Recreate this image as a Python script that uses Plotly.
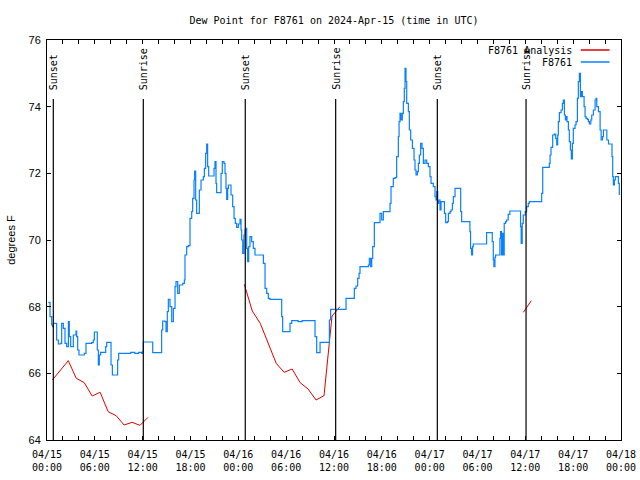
import pandas as pd
import plotly.graph_objects as go

START = pd.Timestamp("2024-04-15 00:00")

# ---- observed dew point (hours since start, degrees F) ----
blue_hours = [
    0.17, 0.38, 0.59, 0.70, 0.79, 1.09, 1.21, 1.42, 1.71, 1.84, 2.05, 2.26, 2.47, 2.68, 2.80, 2.97,
    3.18, 3.30, 3.64, 3.72, 3.85, 4.01, 4.56, 4.68, 4.89, 5.60, 5.81, 5.94, 6.23, 6.31, 6.44, 6.56,
    6.73, 7.19, 7.36, 7.49, 7.90, 8.03, 8.20, 8.74, 8.86, 8.99, 9.57, 10.5, 11.0, 11.5, 11.88, 12.0,
    12.08, 13.0, 13.26, 14.26, 14.38, 14.51, 14.80, 14.93, 15.09, 15.22, 15.43, 15.64, 15.85, 16.06,
    16.18, 16.39, 16.60, 17.02, 17.23, 17.31, 17.52, 17.73, 17.94, 18.15, 18.27, 18.44, 18.52, 18.65,
    18.77, 18.98, 19.11, 19.32, 19.61, 19.74, 19.90, 20.03, 20.15, 20.28, 20.78, 20.95, 21.07, 21.20,
    21.28, 21.70, 21.83, 21.99, 22.20, 22.33, 22.45, 22.54, 22.66, 22.75, 22.96, 23.08, 23.29, 23.46,
    23.62, 23.79, 24.00, 24.21, 24.34, 24.42, 24.55, 24.71, 24.84, 24.96, 25.05, 25.17, 25.30, 25.46,
    25.67, 25.88, 26.09, 26.93, 27.14, 27.35, 27.56, 27.76, 27.97, 29.23, 29.44, 29.56, 30.27, 30.48,
    30.69, 31.5, 32.0, 33.41, 33.62, 33.83, 34.04, 34.25, 35.29, 35.42, 35.58, 37.51, 38.43, 38.55,
    38.76, 38.97, 39.14, 39.26, 40.31, 40.43, 40.60, 40.73, 40.85, 41.06, 41.56, 41.77, 41.98, 42.19,
    42.82, 43.03, 43.15, 43.44, 43.65, 43.86, 44.07, 44.16, 44.28, 44.41, 44.57, 44.70, 44.82, 44.91,
    45.03, 45.12, 45.33, 45.45, 45.62, 45.83, 46.04, 46.16, 46.29, 46.46, 46.58, 46.71, 46.87, 47.04,
    47.21, 47.42, 47.63, 47.84, 48.04, 48.17, 48.46, 48.67, 48.80, 48.88, 49.01, 49.13, 49.30, 49.43,
    49.72, 49.85, 50.01, 50.22, 50.35, 50.56, 50.68, 50.85, 50.97, 51.18, 51.72, 51.89, 52.01, 52.97,
    53.05, 53.13, 53.26, 53.38, 53.47, 54.93, 55.14, 55.77, 55.85, 55.98, 56.06, 56.19, 56.27, 56.73,
    56.81, 56.89, 57.01, 57.14, 57.22, 57.35, 57.52, 57.64, 57.85, 58.06, 59.23, 59.40, 59.48, 59.61,
    59.74, 59.99, 60.16, 60.37, 60.50, 61.97, 62.05, 62.18, 62.89, 63.01, 63.10, 63.22, 63.43, 63.64,
    63.81, 63.94, 64.06, 64.14, 64.27, 64.48, 64.65, 64.77, 64.90, 65.02, 65.11, 65.23, 65.40, 65.52,
    65.65, 65.77, 65.90, 66.02, 66.23, 66.36, 66.53, 66.65, 66.78, 66.91, 67.03, 67.16, 67.28, 67.37,
    67.49, 67.62, 67.79, 67.91, 68.04, 68.21, 68.33, 68.54, 68.75, 68.87, 68.96, 69.17, 69.38, 69.51,
    69.68, 69.80, 70.04, 70.22, 70.43, 70.77, 70.87, 70.96, 71.04, 71.17, 71.29, 71.54, 71.67, 71.79,
]
blue_values = [
    68.13, 67.7, 67.45, 67.4, 67.5, 67.5, 67.0, 66.88, 66.9, 67.5, 67.35, 66.9, 66.8, 67.55, 67.1, 66.8,
    66.8, 67.15, 67.27, 67.1, 66.7, 66.55, 66.55, 66.6, 66.9, 66.92, 67.0, 67.24, 67.24, 66.7, 66.25, 66.55,
    66.63, 66.63, 66.8, 66.93, 66.93, 66.25, 65.95, 65.95, 66.4, 66.6, 66.6, 66.63, 66.6, 66.63, 66.6, 66.65,
    66.94, 66.94, 66.62, 66.62, 67.3, 67.57, 67.55, 67.25, 67.85, 68.22, 68.0, 67.55, 67.95, 68.6,
    68.75, 68.4, 68.65, 68.7, 68.8, 69.55, 69.8, 69.83, 70.65, 70.85, 71.25, 71.8, 72.07, 71.2,
    70.8, 70.8, 71.5, 71.8, 71.9, 72.15, 72.6, 72.88, 72.2, 71.92, 71.92, 72.15, 72.35, 71.7,
    71.42, 71.42, 72.0, 72.35, 72.3, 72.0, 71.55, 71.22, 71.55, 71.65, 71.65, 71.35, 71.0, 70.65,
    70.5, 70.38, 70.48, 70.62, 70.3, 70.0, 69.6, 70.15, 70.3, 70.35, 69.75, 69.35, 69.8, 70.1,
    69.95, 69.75, 69.55, 69.55, 69.3, 68.55, 68.4, 68.25, 68.22, 68.22, 67.7, 67.25, 67.25, 67.5,
    67.58, 67.55, 67.58, 67.58, 67.1, 66.62, 66.62, 66.93, 66.93, 67.6, 67.92, 68.25, 68.25, 68.55,
    68.62, 68.85, 69.0, 69.2, 69.25, 69.45, 69.2, 69.45, 69.8, 70.52, 70.52, 70.8, 70.6, 70.85,
    70.85, 71.1, 71.6, 71.85, 71.87, 72.5, 73.1, 73.55, 73.8, 73.6, 73.8, 74.15, 74.55, 75.15,
    74.75, 74.1, 73.85, 73.3, 73.0, 72.75, 72.4, 72.1, 71.95, 72.05, 72.3, 72.55, 72.9, 72.75,
    72.3, 72.4, 72.3, 72.2, 71.9, 71.7, 71.6, 71.3, 71.2, 71.45, 71.1, 71.2, 70.9, 71.15,
    71.15, 70.8, 70.52, 70.55, 70.8, 70.85, 70.9, 71.1, 71.3, 71.55, 71.55, 70.85, 70.55, 70.55,
    70.25, 69.75, 69.55, 69.8, 69.88, 69.88, 70.22, 70.22, 69.95, 69.4, 69.2, 69.48, 69.55, 69.55,
    70.05, 70.25, 69.55, 70.2, 69.55, 70.5, 70.55, 70.6, 70.77, 70.87, 70.87, 70.4, 69.9, 70.5,
    70.75, 70.85, 71.0, 71.1, 71.15, 71.15, 71.4, 72.18, 72.18, 72.3, 72.55, 72.78, 73.15, 73.18,
    73.05, 72.85, 73.15, 73.55, 73.82, 73.9, 74.1, 74.2, 73.75, 73.6, 73.7, 73.55, 73.3, 72.95,
    72.7, 72.43, 72.9, 73.35, 73.45, 73.55, 74.25, 74.75, 75.0, 74.3, 74.45, 74.3, 74.3, 74.0,
    73.7, 73.65, 73.62, 73.55, 73.48, 73.6, 73.75, 73.9, 74.2, 74.25, 74.0, 73.85, 73.3, 73.0,
    73.1, 73.3, 73.3, 73.0, 72.88, 72.88, 72.5, 71.9, 71.65, 71.8, 71.9, 71.9, 71.7, 71.35,
]

# ---- analysis dew point (three runs, separated by gaps) ----
red_hours = [
    0.67, 1.67, 2.67, 3.67, 4.67, 5.67, 6.67, 7.67, 8.67, 9.67, 10.67, 11.67, 12.67, None,
    24.75, 25.75, 26.75, 27.75, 28.75, 29.75, 30.75, 31.75, 32.75, 33.75, 34.75, 35.75, 36.75, None,
    59.75, 60.75,
]
red_values = [
    65.8, 66.1, 66.38, 65.85, 65.72, 65.32, 65.43, 64.85, 64.73, 64.45, 64.53, 64.44, 64.68, None,
    68.67, 67.87, 67.5, 66.9, 66.3, 66.03, 66.13, 65.72, 65.53, 65.2, 65.33, 67.72, 68.0, None,
    67.83, 68.18,
]

sun_labels = ["Sunset", "Sunrise", "Sunset", "Sunrise", "Sunset", "Sunrise"]
sun_hours = [0.79, 12.08, 24.87, 36.21, 48.96, 60.09]

tick_hours = list(range(0, 73, 6))
y_ticks = [64, 66, 68, 70, 72, 74, 76]

MONO = "DejaVu Sans Mono"
SANS = "Liberation Sans"
RED = "#e00000"
BLUE = "#0a80ff"


def to_time(hours):
    return [None if h is None else START + pd.Timedelta(hours=h) for h in hours]


blue_x = to_time(blue_hours)
red_x = to_time(red_hours)
sun_x = to_time(sun_hours)
tick_x = to_time(tick_hours)
tick_text = [t.strftime("%m/%d") + "<br>" + t.strftime("%H:%M") for t in tick_x]

fig = go.Figure()
fig.add_trace(go.Scatter(x=red_x, y=red_values, mode="lines", name="F8761 Analysis",
                         line=dict(color=RED, width=1), connectgaps=False))
fig.add_trace(go.Scatter(x=blue_x, y=blue_values, mode="lines", name="F8761",
                         line=dict(color=BLUE, width=1.2, shape="hv")))

for lab, t in zip(sun_labels, sun_x):
    fig.add_shape(type="line", xref="x", yref="paper", x0=t, x1=t, y0=0, y1=0.8525,
                  line=dict(color="black", width=1.2))
    fig.add_annotation(x=t, y=0.87, xref="x", yref="paper", text=lab, textangle=-90,
                       showarrow=False, xanchor="center", yanchor="bottom",
                       font=dict(family=MONO, size=10, color="black"))

# legend drawn gnuplot-style: text, then line sample
legend_items = [("F8761 Analysis", RED, 0.975), ("F8761", BLUE, 0.945)]
for name, col, yy in legend_items:
    fig.add_annotation(x=0.918, y=yy, xref="paper", yref="paper", text=name, showarrow=False,
                       xanchor="right", yanchor="middle", font=dict(family=MONO, size=10, color="black"))
    fig.add_shape(type="line", xref="paper", yref="paper", x0=0.930, x1=0.980, y0=yy, y1=yy,
                  line=dict(color=col, width=1.5))

fig.update_layout(
    width=640, height=480,
    margin=dict(l=47, r=19, t=40, b=40, autoexpand=False),
    paper_bgcolor="white", plot_bgcolor="white",
    showlegend=False,
    title=dict(text="Dew Point for F8761 on 2024-Apr-15 (time in UTC)", x=0.5, xref="paper",
               xanchor="center", yref="container", y=1 - 20 / 480, yanchor="middle",
               font=dict(family=MONO, size=10, color="black")),
)
fig.update_xaxes(
    range=[START, START + pd.Timedelta(hours=72)],
    tickvals=tick_x, ticktext=tick_text, automargin=False, ticklabelstandoff=5,
    ticks="inside", ticklen=4, tickcolor="black",
    showline=True, linecolor="black", linewidth=1, mirror="allticks",
    showgrid=False, zeroline=False,
    tickfont=dict(family=MONO, size=10, color="black"),
    minor=dict(dtick=2 * 3600 * 1000, ticks="inside", ticklen=4, tickcolor="black", showgrid=False),
)
fig.update_yaxes(
    range=[64, 76], tickvals=y_ticks, automargin=False, ticklabelstandoff=3,
    ticks="inside", ticklen=4, tickcolor="black",
    showline=True, linecolor="black", linewidth=1, mirror="allticks",
    showgrid=False, zeroline=False,
    tickfont=dict(family=SANS, size=11, color="black"),
    title=dict(text="degrees F", font=dict(family=SANS, size=11, color="black"), standoff=10),
)

fig.write_html("out.html", config={"displayModeBar": False},
               post_script="document.body.style.margin='0px';")
